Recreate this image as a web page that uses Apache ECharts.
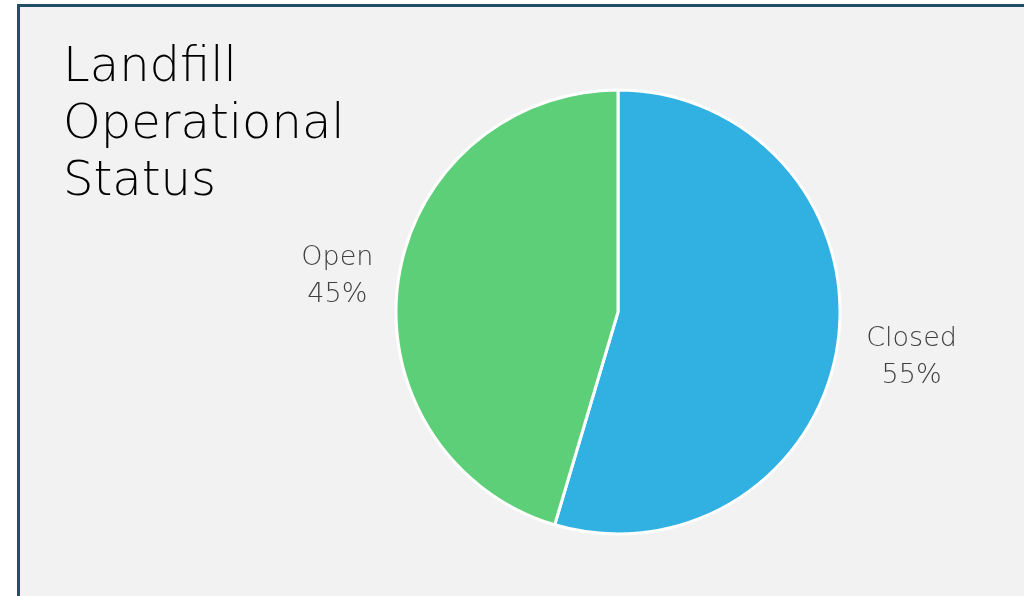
<!DOCTYPE html>
<html>
<head>
<meta charset="utf-8">
<script src="https://cdn.jsdelivr.net/npm/echarts@6/dist/echarts.min.js"></script>
<style>
  html, body { margin: 0; padding: 0; background: #ffffff; overflow: hidden; }
  .frame {
    position: absolute; left: 17px; top: 4px;
    border-left: 3px solid #1f5068; border-top: 3px solid #1f5068;
  }
  #chart { width: 1004px; height: 589px; }
</style>
</head>
<body>
<div class="frame"><div id="chart"></div></div>
<script>
  // 数据
  const categories = ['Closed', 'Open']
  const shares = [54.6, 45.4]
  const colors = ['#31b0e2', '#5dcf79']
  // 每个标签的微调
  const labelTweaks = [
    { label: { padding: [22, 0, 0, 0] }, labelLine: { length: 14 } },
    { label: { padding: [0, 0, 6, 0] }, labelLine: { length: 1 } }
  ]

  const pieData = categories.map((name, i) => ({
    name: name,
    value: shares[i],
    itemStyle: { color: colors[i] },
    label: labelTweaks[i].label,
    labelLine: labelTweaks[i].labelLine
  }))

  const chartObj = echarts.init(document.getElementById('chart'))
  chartObj.setOption({
    backgroundColor: '#f2f2f2',
    animation: false,
    title: {
      text: 'Landfill\nOperational\nStatus',
      left: 38,
      top: 28,
      textStyle: {
        fontFamily: 'DejaVu Sans',
        fontWeight: 200,
        fontSize: 48,
        lineHeight: 57,
        color: '#000000'
      }
    },
    series: [{
      type: 'pie',
      center: [598, 305],
      radius: 222,
      startAngle: 90,
      clockwise: true,
      percentPrecision: 0,
      itemStyle: { borderColor: '#ffffff', borderWidth: 3 },
      label: {
        show: true,
        position: 'outside',
        formatter: '{a|{b}}\n{a|{d}%}',
        rich: {
          a: {
            width: 110,
            align: 'center',
            fontFamily: 'DejaVu Sans',
            fontWeight: 200,
            fontSize: 27,
            lineHeight: 37,
            color: '#404040'
          }
        }
      },
      labelLine: { show: false, length: 14, length2: 0 },
      data: pieData
    }]
  })
</script>
</body>
</html>
